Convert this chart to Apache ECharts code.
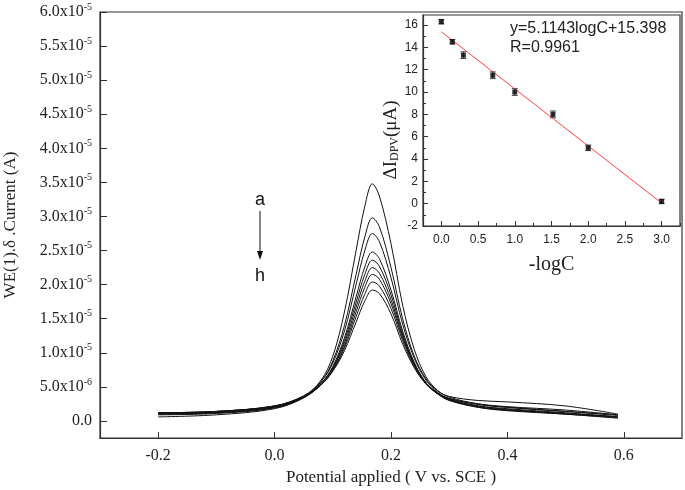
<!DOCTYPE html>
<html><head><meta charset="utf-8">
<script src="https://cdn.jsdelivr.net/npm/echarts@6/dist/echarts.min.js"></script>
<style>html,body{margin:0;padding:0;background:#fff}#c{width:685px;height:490px}</style>
</head><body><div id="c"></div>
<script>
// ---- Main DPV curves (current in units of 1e-5 A) ----
const potential = [-0.2, -0.1, 0.0, 0.05, 0.08, 0.10, 0.12, 0.14, 0.155, 0.168, 0.18, 0.20, 0.22, 0.24, 0.26, 0.28, 0.30, 0.35, 0.40, 0.50, 0.59];
const curveA = [0.10, 0.12, 0.20, 0.35, 0.60, 0.95, 1.60, 2.50, 3.15, 3.48, 3.30, 2.60, 1.70, 1.05, 0.65, 0.45, 0.35, 0.25, 0.20, 0.14, 0.08];
const curveB = [0.11, 0.13, 0.21, 0.36, 0.58, 0.88, 1.40, 2.15, 2.70, 2.98, 2.85, 2.25, 1.50, 0.95, 0.62, 0.44, 0.36, 0.30, 0.28, 0.22, 0.10];
const curveC = [0.12, 0.14, 0.22, 0.37, 0.58, 0.85, 1.32, 2.00, 2.50, 2.75, 2.63, 2.10, 1.42, 0.92, 0.60, 0.42, 0.33, 0.24, 0.20, 0.14, 0.09];
const curveD = [0.06, 0.09, 0.18, 0.34, 0.55, 0.80, 1.22, 1.82, 2.26, 2.48, 2.38, 1.92, 1.32, 0.86, 0.56, 0.40, 0.30, 0.20, 0.16, 0.10, 0.05];
const curveE = [0.10, 0.12, 0.20, 0.35, 0.55, 0.78, 1.18, 1.74, 2.15, 2.36, 2.27, 1.85, 1.28, 0.84, 0.56, 0.40, 0.31, 0.22, 0.18, 0.12, 0.06];
const curveF = [0.12, 0.14, 0.22, 0.36, 0.55, 0.77, 1.14, 1.67, 2.05, 2.25, 2.17, 1.78, 1.25, 0.83, 0.56, 0.41, 0.33, 0.25, 0.21, 0.16, 0.09];
const curveG = [0.09, 0.11, 0.19, 0.34, 0.53, 0.75, 1.10, 1.60, 1.96, 2.15, 2.08, 1.72, 1.22, 0.82, 0.56, 0.41, 0.32, 0.22, 0.17, 0.11, 0.06];
const curveH = [0.11, 0.13, 0.21, 0.35, 0.53, 0.74, 1.07, 1.53, 1.86, 2.04, 1.98, 1.65, 1.18, 0.80, 0.55, 0.40, 0.31, 0.21, 0.16, 0.11, 0.06];
const curveI = [0.12, 0.14, 0.22, 0.36, 0.53, 0.73, 1.03, 1.45, 1.76, 1.92, 1.87, 1.57, 1.13, 0.78, 0.54, 0.40, 0.31, 0.20, 0.15, 0.10, 0.04];
const curves = [curveA, curveB, curveC, curveD, curveE, curveF, curveG, curveH, curveI];

const mainXTicks = [-0.2, 0.0, 0.2, 0.4, 0.6];
const mainXTickLabels = ['-0.2', '0.0', '0.2', '0.4', '0.6'];
const mainYTicks = [0, 0.5, 1.0, 1.5, 2.0, 2.5, 3.0, 3.5, 4.0, 4.5, 5.0, 5.5, 6.0];
const mainYMantissa = ['0.0', '5.0', '1.0', '1.5', '2.0', '2.5', '3.0', '3.5', '4.0', '4.5', '5.0', '5.5', '6.0'];
const mainYExponent = ['', '-6', '-5', '-5', '-5', '-5', '-5', '-5', '-5', '-5', '-5', '-5', '-5'];

// ---- Inset calibration ----
const negLogC = [0, 0.15, 0.30, 0.70, 1.0, 1.52, 2.0, 3.0];
const deltaI = [16.3, 14.5, 13.3, 11.5, 10.0, 8.0, 5.0, 0.2];
const deltaIErr = [0.2, 0.2, 0.3, 0.3, 0.3, 0.3, 0.25, 0.2];
const fitSlope = -5.1143, fitIntercept = 15.398;
const fitRange = [0, 3.0];
const insetXTicks = [0, 0.5, 1.0, 1.5, 2.0, 2.5, 3.0];
const insetXMinor = [-0.25, 0.25, 0.75, 1.25, 1.75, 2.25, 2.75, 3.25];
const insetYTicks = [-2, 0, 2, 4, 6, 8, 10, 12, 14, 16];
const insetYMinor = [-1, 1, 3, 5, 7, 9, 11, 13, 15];

const serif = '"Liberation Serif", "DejaVu Serif", serif';
const sans = '"Liberation Sans", Arial, sans-serif';
const axCol = '#333';

const chart = echarts.init(document.getElementById('c'));
const mainSeries = curves.map(c => ({
  type: 'line', xAxisIndex: 0, yAxisIndex: 0, showSymbol: false, smooth: 0.35,
  lineStyle: { color: '#111', width: 1 }, data: potential.map((x, i) => [x, c[i]]), z: 2
}));

chart.setOption({
  animation: false,
  grid: [
    { left: 100, right: 3, top: 12, bottom: 52, show: true, borderColor: axCol, borderWidth: 1.2, outerBoundsMode: 'none', containLabel: false },
    { left: 423, right: 5, top: 15, bottom: 264, show: true, borderColor: axCol, borderWidth: 1.2, backgroundColor: '#fff', z: 5, outerBoundsMode: 'none', containLabel: false }
  ],
  xAxis: [
    { gridIndex: 0, type: 'value', min: -0.3, max: 0.7,
      axisLine: { onZero: false, lineStyle: { color: axCol, width: 1.2 } },
      axisTick: { inside: true, length: 6, customValues: mainXTicks, lineStyle: { color: axCol } },
      axisLabel: { customValues: mainXTicks, margin: 10, fontFamily: serif, fontSize: 16, color: '#222',
        formatter: v => { const i = mainXTicks.findIndex(t => Math.abs(t - v) < 1e-6); return i >= 0 ? mainXTickLabels[i] : ''; } },
      splitLine: { show: false },
      name: 'Potential applied ( V vs. SCE )', nameLocation: 'middle', nameGap: 25,
      nameTextStyle: { fontFamily: serif, fontSize: 17, color: '#222' } },
    { gridIndex: 1, type: 'value', min: -0.25, max: 3.25, z: 6,
      axisLine: { onZero: false, lineStyle: { color: axCol, width: 1.2 } },
      axisTick: { inside: true, length: 5, customValues: insetXTicks, lineStyle: { color: axCol } },
      axisLabel: { customValues: insetXTicks, margin: 8, fontFamily: sans, fontSize: 12, color: '#222',
        formatter: v => v.toFixed(1) },
      splitLine: { show: false },
      name: '-logC', nameLocation: 'middle', nameGap: 29,
      nameTextStyle: { fontFamily: serif, fontSize: 20, color: '#222' } },
    { gridIndex: 1, type: 'value', min: -0.25, max: 3.25, position: 'bottom', z: 6,
      axisLine: { show: false, onZero: false },
      axisTick: { inside: true, length: 3, customValues: insetXMinor, lineStyle: { color: axCol } },
      axisLabel: { show: false }, splitLine: { show: false } }
  ],
  yAxis: [
    { gridIndex: 0, type: 'value', min: -0.25, max: 6.0,
      axisLine: { show: true, onZero: false, lineStyle: { color: axCol, width: 1.2 } },
      axisTick: { show: true, inside: true, length: 7, customValues: mainYTicks, lineStyle: { color: axCol } },
      axisLabel: { customValues: mainYTicks, margin: 8, color: '#222',
        formatter: v => { const i = mainYTicks.findIndex(t => Math.abs(t - v) < 1e-6); if (i < 0) return '';
          return mainYExponent[i] ? '{m|' + mainYMantissa[i] + 'x10}{s|' + mainYExponent[i] + '}' : '{m|' + mainYMantissa[i] + '}'; },
        rich: { m: { fontFamily: serif, fontSize: 16, color: '#222' },
                s: { fontFamily: serif, fontSize: 10, color: '#222', padding: [0, 0, 10, 0] } } },
      splitLine: { show: false },
      name: 'WE(1).δ .Current (A)', nameLocation: 'middle', nameGap: 81, nameRotate: 90,
      nameTextStyle: { fontFamily: serif, fontSize: 17, color: '#222' } },
    { gridIndex: 1, type: 'value', min: -2, max: 16.9, z: 6,
      axisLine: { show: true, onZero: false, lineStyle: { color: axCol, width: 1.2 } },
      axisTick: { show: true, inside: true, length: 5, customValues: insetYTicks, lineStyle: { color: axCol } },
      axisLabel: { customValues: insetYTicks, margin: 5, fontFamily: sans, fontSize: 12, color: '#222' },
      splitLine: { show: false } },
    { gridIndex: 1, type: 'value', min: -2, max: 16.9, position: 'left', z: 6,
      axisLine: { show: false, onZero: false },
      axisTick: { show: true, inside: true, length: 3, customValues: insetYMinor, lineStyle: { color: axCol } },
      axisLabel: { show: false }, splitLine: { show: false } }
  ],
  series: mainSeries.concat([
    { type: 'line', xAxisIndex: 1, yAxisIndex: 1, showSymbol: false, z: 7,
      lineStyle: { color: '#ff4040', width: 1 },
      data: fitRange.map(x => [x, fitSlope * x + fitIntercept]) },
    { type: 'custom', xAxisIndex: 1, yAxisIndex: 1, z: 8,
      data: negLogC.map((x, i) => [x, deltaI[i], deltaIErr[i]]),
      renderItem: (params, api) => {
        const x = api.value(0), y = api.value(1), e = api.value(2);
        const hi = api.coord([x, y + e]), lo = api.coord([x, y - e]);
        const hw = 3;
        const st = { stroke: '#444', lineWidth: 1 };
        return { type: 'group', children: [
          { type: 'line', shape: { x1: hi[0], y1: hi[1], x2: lo[0], y2: lo[1] }, style: st },
          { type: 'line', shape: { x1: hi[0] - hw, y1: hi[1], x2: hi[0] + hw, y2: hi[1] }, style: st },
          { type: 'line', shape: { x1: lo[0] - hw, y1: lo[1], x2: lo[0] + hw, y2: lo[1] }, style: st }
        ] };
      } },
    { type: 'scatter', xAxisIndex: 1, yAxisIndex: 1, z: 9, symbol: 'rect', symbolSize: 5,
      itemStyle: { color: '#000' }, data: negLogC.map((x, i) => [x, deltaI[i]]) }
  ]),
  graphic: [
    { type: 'text', x: 391, y: 140, rotation: Math.PI / 2, z: 20,
      style: { text: '{a|ΔI}{b|DPV}{a|(μA)}', align: 'center', verticalAlign: 'middle',
        rich: { a: { fontFamily: serif, fontSize: 19, fill: '#222' },
                b: { fontFamily: serif, fontSize: 12, fill: '#222', padding: [8, 0, 0, 0] } } } },
    { type: 'text', x: 510, y: 29, z: 20, style: { text: 'y=5.1143logC+15.398', font: '16px ' + sans, fill: '#222', verticalAlign: 'middle' } },
    { type: 'text', x: 510, y: 48, z: 20, style: { text: 'R=0.9961', font: '16px ' + sans, fill: '#222', verticalAlign: 'middle' } },
    { type: 'text', x: 260, y: 200, z: 20, style: { text: 'a', font: '18px ' + sans, fill: '#111', align: 'center', verticalAlign: 'middle' } },
    { type: 'text', x: 260, y: 276, z: 20, style: { text: 'h', font: '18px ' + sans, fill: '#111', align: 'center', verticalAlign: 'middle' } },
    { type: 'line', z: 20, shape: { x1: 260, y1: 211, x2: 260, y2: 254 }, style: { stroke: '#111', lineWidth: 1 } },
    { type: 'polygon', z: 20, shape: { points: [[257, 251], [263, 251], [260, 260]] }, style: { fill: '#111' } }
  ]
});
</script></body></html>
